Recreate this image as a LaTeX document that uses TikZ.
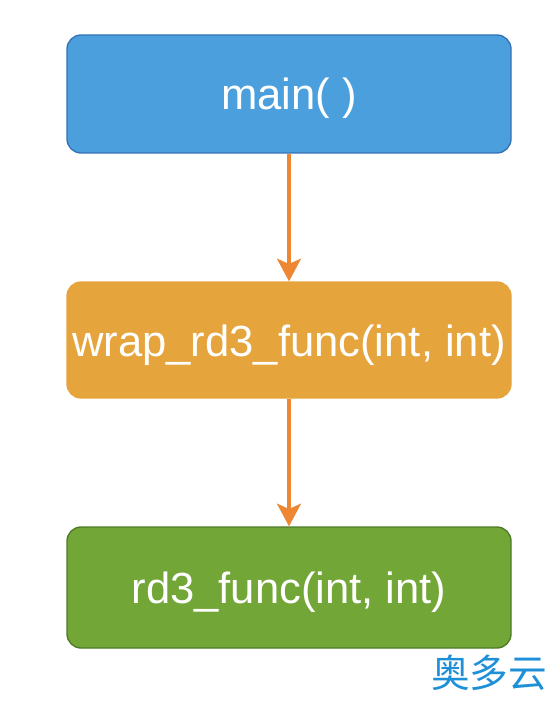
\documentclass[tikz,border=0pt]{standalone}
\usepackage{fontspec}
\setmainfont{Liberation Sans}
\newfontfamily\cjk{Noto Sans CJK SC}
\usetikzlibrary{arrows.meta}

\definecolor{mainfill}{HTML}{4A9FDC}
\definecolor{maindraw}{HTML}{3572B5}
\definecolor{wrapfill}{HTML}{E6A43C}
\definecolor{rdfill}{HTML}{72A637}
\definecolor{rddraw}{HTML}{4F7A26}
\definecolor{flowcol}{HTML}{ED8733}
\definecolor{wmcol}{HTML}{1E90D8}

\tikzset{
  func/.style={rounded corners=10.5pt,minimum width=333pt,inner sep=0pt,line width=1pt,
    text=white,font=\fontsize{32.7}{39}\selectfont,text height=24pt,text depth=0pt},
  flow/.style={draw=flowcol,line width=2.3pt,-{Stealth[length=17pt,width=18pt,inset=4pt]}}
}

\begin{document}
\begin{tikzpicture}[x=0.75pt,y=-0.75pt]
    \useasboundingbox(0,0)rectangle(558,702);

    \node[func,fill=mainfill,draw=maindraw,minimum height=88.5pt](main)at(289,94){main( )};
    \node[func,fill=wrapfill,draw=wrapfill,minimum height=87pt](wrap)at(289,340){wrap\_rd3\_func(int, int)};
    \node[func,fill=rdfill,draw=rddraw,minimum height=90.75pt](rd)at(289,587.5){rd3\_func(int, int)};

    \draw[flow](main)--(wrap);
    \draw[flow](wrap)--(rd);

    \node[text=wmcol,font=\cjk\fontsize{29}{32}\selectfont,inner sep=0pt](wm)at(489,673){奥多云};
\end{tikzpicture}
\end{document}
